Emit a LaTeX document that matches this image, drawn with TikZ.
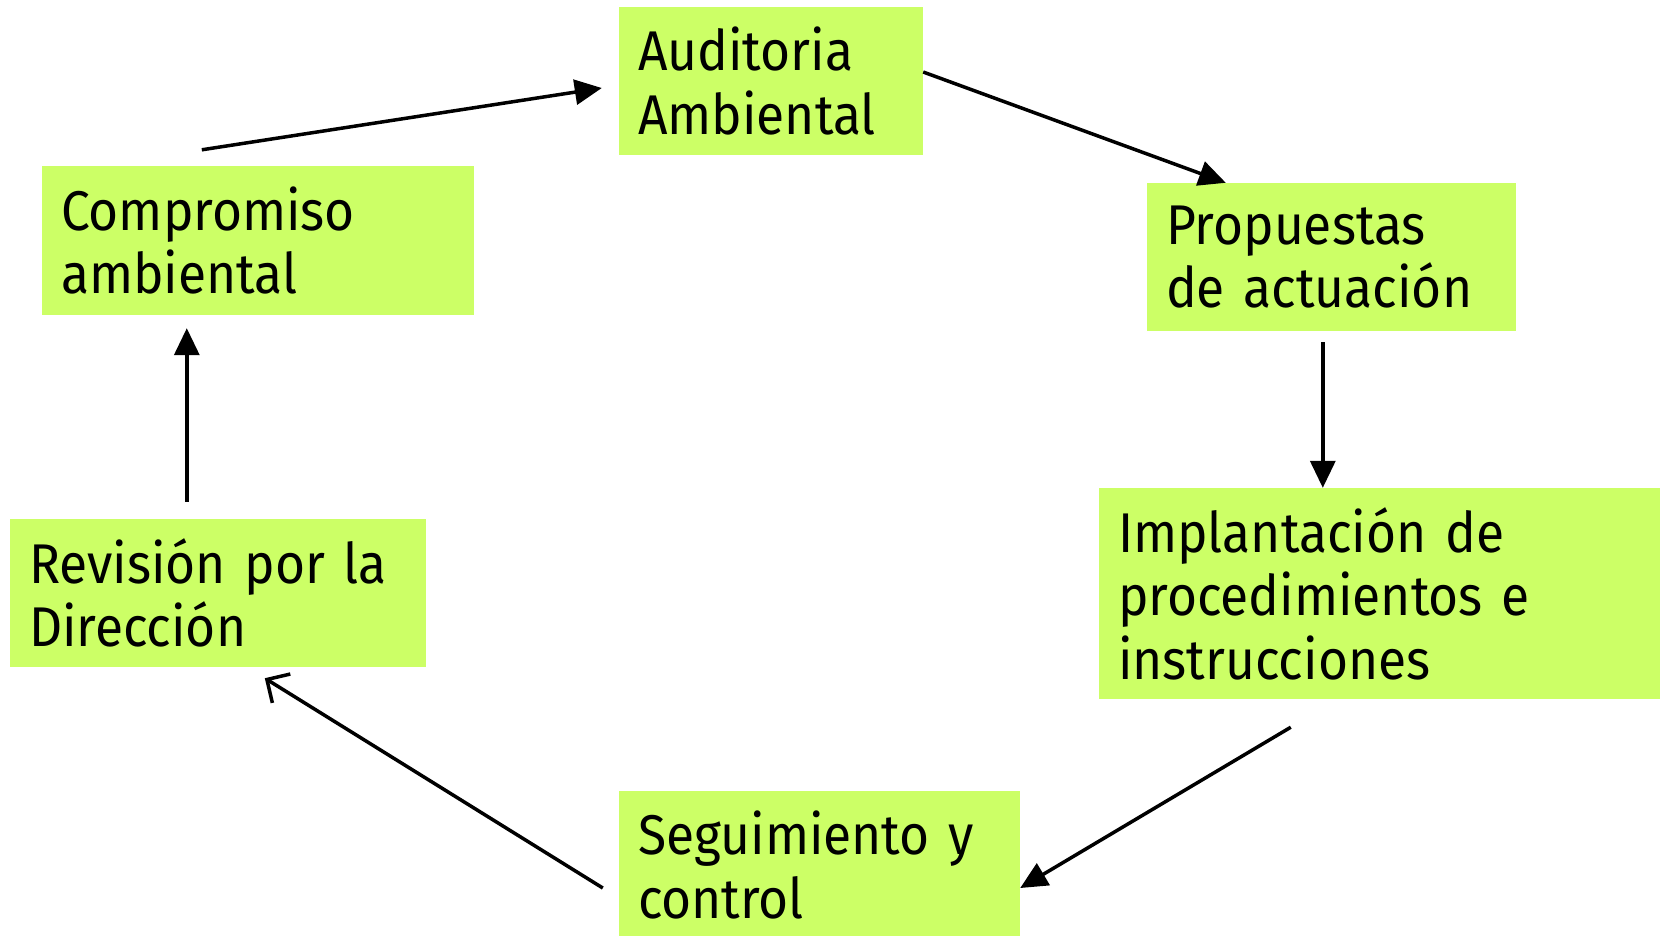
\documentclass[tikz,border=0pt]{standalone}
\usepackage{fontspec}
\setmainfont[FakeStretch=0.92]{Fira Sans}
\usetikzlibrary{arrows.meta,calc}
\tikzset{
  box/.style={rectangle, fill=boxgreen, draw=none, inner xsep=19pt, inner ysep=0pt, align=left, anchor=center,
    font=\fontsize{56}{63.6}\selectfont},
  conn/.style={line width=3.5pt, -{Triangle[length=27pt,width=25pt]}},
  connopen/.style={line width=3.5pt, -{Straight Barb[length=17pt,width=34pt,line width=3.5pt]}}
}
\definecolor{boxgreen}{HTML}{CCFF66}
\begin{document}
\begin{tikzpicture}[x=1pt,y=-1pt]
\useasboundingbox (0,0) rectangle (1662,935);
\node[box, minimum width=304pt, minimum height=148pt, text width=266pt] (aud) at (771,81) {Auditoria\\Ambiental};
\node[box, minimum width=432pt, minimum height=149pt, text width=394pt] (comp) at (258,240.5) {Compromiso\\ambiental};
\node[box, minimum width=369pt, minimum height=148pt, text width=331pt] (prop) at (1331.5,257) {Propuestas\\de actuación};
\node[box, minimum width=561pt, minimum height=211pt, text width=523pt] (impl) at (1379.5,593.5) {Implantación de\\procedimientos e\\instrucciones};
\node[box, minimum width=401pt, minimum height=148pt, text width=363pt] (seg) at (819.5,865) {Seguimiento y\\control};
\node[box, minimum width=416pt, minimum height=148pt, text width=378pt] (rev) at (218,593) {Revisión por la\\Dirección};
\draw[conn] ($(comp.north west)+(160,-16)$) -- ($(aud.west)+(-17,7)$);
\draw[conn] ($(aud.east)+(0,-9)$) -- ($(prop.north west)+(79,0)$);
\draw[conn] ($(prop.south west)+(176,11)$) -- ($(impl.north west)+(224,0)$);
\draw[conn] ($(impl.south west)+(192,28)$) -- ($(seg.east)+(0,23)$);
\draw[connopen] ($(seg.west)+(-16,23)$) -- ($(rev.south west)+(255,11)$);
\draw[conn] ($(rev.north west)+(177,-17)$) -- ($(comp.south west)+(145,13)$);
\end{tikzpicture}
\end{document}
